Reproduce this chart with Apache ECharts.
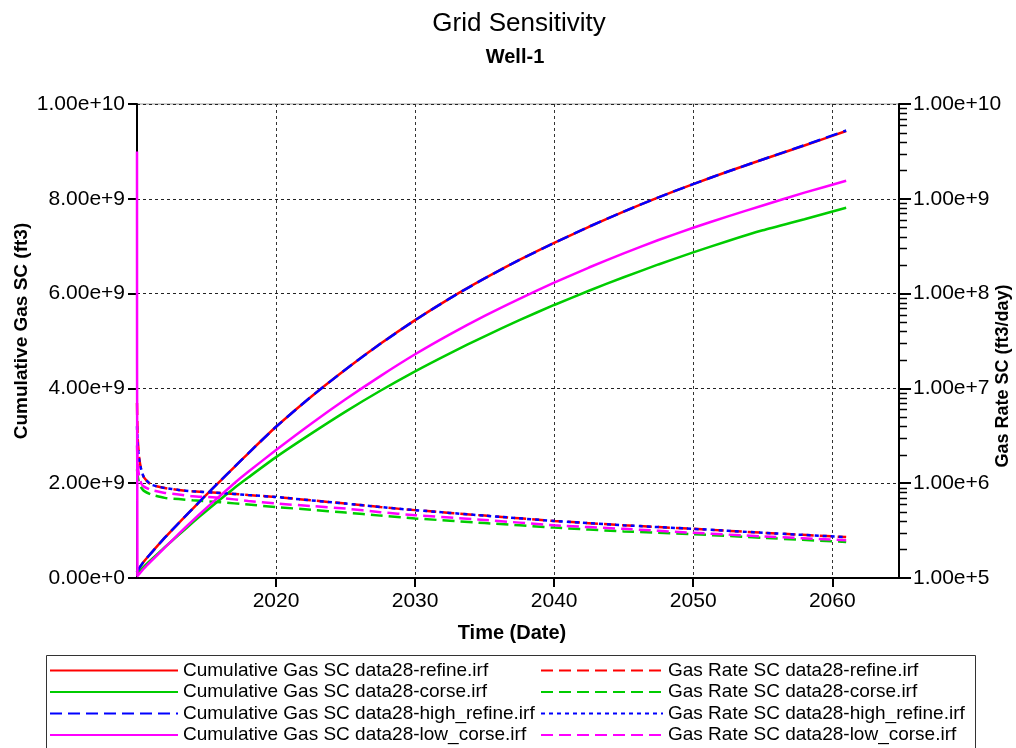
<!DOCTYPE html>
<html>
<head>
<meta charset="utf-8">
<title>Grid Sensitivity - Well-1</title>
<script src="https://cdn.jsdelivr.net/npm/echarts@6/dist/echarts.min.js"></script>
<style>
  html, body { margin: 0; padding: 0; background: #ffffff; }
  #chart { width: 1016px; height: 748px; }
</style>
</head>
<body>
<div id="chart"></div>
<script>
// ---- Cumulative gas (ft3), left axis ----
const cumYears      = [2010.0, 2010.03, 2010.5, 2011, 2012, 2013, 2014, 2015, 2016, 2017, 2018, 2020, 2022.5, 2025, 2027.5, 2030, 2032.5, 2035, 2037.5, 2040, 2042.5, 2045, 2047.5, 2050, 2052.5, 2055, 2058, 2061];
const cumRefine     = [0.12e9, 0.15e9, 0.35e9, 0.52e9, 0.85e9, 1.16e9, 1.46e9, 1.76e9, 2.05e9, 2.34e9, 2.63e9, 3.19e9, 3.82e9, 4.40e9, 4.94e9, 5.44e9, 5.90e9, 6.32e9, 6.71e9, 7.07e9, 7.41e9, 7.73e9, 8.03e9, 8.31e9, 8.575e9, 8.83e9, 9.125e9, 9.43e9];
const cumHighRefine = [0.12e9, 0.15e9, 0.35e9, 0.52e9, 0.85e9, 1.16e9, 1.46e9, 1.76e9, 2.05e9, 2.34e9, 2.63e9, 3.19e9, 3.82e9, 4.40e9, 4.94e9, 5.44e9, 5.90e9, 6.32e9, 6.71e9, 7.07e9, 7.41e9, 7.73e9, 8.03e9, 8.31e9, 8.575e9, 8.83e9, 9.13e9, 9.44e9];
const cumCorse      = [0.08e9, 0.10e9, 0.24e9, 0.38e9, 0.65e9, 0.91e9, 1.17e9, 1.42e9, 1.66e9, 1.90e9, 2.12e9, 2.55e9, 3.04e9, 3.51e9, 3.95e9, 4.36e9, 4.74e9, 5.10e9, 5.44e9, 5.76e9, 6.06e9, 6.345e9, 6.615e9, 6.87e9, 7.11e9, 7.335e9, 7.57e9, 7.81e9];
const cumLowCorse   = [9.00e9, 0.04e9, 0.20e9, 0.35e9, 0.64e9, 0.93e9, 1.21e9, 1.48e9, 1.74e9, 2.00e9, 2.24e9, 2.70e9, 3.25e9, 3.77e9, 4.26e9, 4.72e9, 5.14e9, 5.53e9, 5.89e9, 6.23e9, 6.55e9, 6.85e9, 7.13e9, 7.39e9, 7.63e9, 7.86e9, 8.13e9, 8.38e9];

// ---- Gas rate (ft3/day), right log axis ----
const rateYears      = [2010.0, 2010.05, 2010.15, 2010.3, 2010.5, 2011, 2012, 2013, 2014, 2016, 2018, 2020, 2022.5, 2025, 2027.5, 2030, 2035, 2040, 2045, 2050, 2055, 2061];
const rateRefine     = [7.0e6, 3.0e6, 1.9e6, 1.4e6, 1.15e6, 9.7e5, 8.9e5, 8.5e5, 8.2e5, 7.9e5, 7.5e5, 7.15e5, 6.6e5, 6.1e5, 5.6e5, 5.2e5, 4.55e5, 4.0e5, 3.6e5, 3.3e5, 3.0e5, 2.7e5];
const rateHighRefine = [4.0e6, 2.6e6, 1.8e6, 1.4e6, 1.15e6, 9.7e5, 8.9e5, 8.5e5, 8.2e5, 7.9e5, 7.5e5, 7.15e5, 6.6e5, 6.1e5, 5.6e5, 5.2e5, 4.55e5, 4.0e5, 3.6e5, 3.3e5, 3.0e5, 2.7e5];
const rateCorse      = [1.4e6, 1.2e6, 1.0e6, 9.0e5, 8.3e5, 7.6e5, 7.0e5, 6.8e5, 6.6e5, 6.3e5, 5.95e5, 5.6e5, 5.25e5, 4.9e5, 4.55e5, 4.25e5, 3.8e5, 3.4e5, 3.1e5, 2.9e5, 2.65e5, 2.4e5];
const rateLowCorse   = [2.5e6, 1.6e6, 1.2e6, 1.0e6, 9.2e5, 8.5e5, 7.9e5, 7.6e5, 7.3e5, 7.0e5, 6.5e5, 6.1e5, 5.75e5, 5.4e5, 4.95e5, 4.6e5, 4.1e5, 3.6e5, 3.3e5, 3.0e5, 2.75e5, 2.5e5];

// ---- Axes ----
const timeMin = 2010, timeMax = 2064.8, timeStep = 10;
const cumMin = 0, cumMax = 1e10, cumStep = 2e9;
const rateMin = 1e5, rateMax = 1e10;
const rateDecades = [5, 6, 7, 8, 9];          // minor ticks at 2..9 x 10^d
const minorMultipliers = [2, 3, 4, 5, 6, 7, 8, 9];

const seriesNames = {
  cumRefine: 'Cumulative Gas SC data28-refine.irf',
  cumCorse: 'Cumulative Gas SC data28-corse.irf',
  cumHigh: 'Cumulative Gas SC data28-high_refine.irf',
  cumLow: 'Cumulative Gas SC data28-low_corse.irf',
  rateRefine: 'Gas Rate SC data28-refine.irf',
  rateCorse: 'Gas Rate SC data28-corse.irf',
  rateHigh: 'Gas Rate SC data28-high_refine.irf',
  rateLow: 'Gas Rate SC data28-low_corse.irf'
};

const FONT = '"Liberation Sans", Arial, Helvetica, sans-serif';
const RED = '#ff0000', GREEN = '#00cc00', BLUE = '#0000ff', MAGENTA = '#ff00ff';

const zip = (xs, ys) => xs.map((x, i) => [x, ys[i]]);

const minorTicks = [];
rateDecades.forEach(d => minorMultipliers.forEach(m => minorTicks.push([timeMax, m * Math.pow(10, d)])));

function lineSeries(name, xs, ys, color, dash, yAxisIndex) {
  return {
    name: name,
    type: 'line',
    xAxisIndex: 0,
    yAxisIndex: yAxisIndex,
    data: zip(xs, ys),
    showSymbol: false,
    symbol: 'none',
    smooth: 0.2,
    animation: false,
    lineStyle: { color: color, width: 2.5, type: dash },
    itemStyle: { color: color },
    emphasis: { disabled: true }
  };
}

const expLabel = v => Number(v).toExponential(2);

const legendBase = {
  orient: 'vertical', top: 661, padding: 0,
  itemHeight: 19, itemGap: 2.5,
  selectedMode: false,
  itemStyle: { opacity: 0 },
  textStyle: { fontSize: 19, color: '#000', fontFamily: FONT }
};

const chart = echarts.init(document.getElementById('chart'), null, { renderer: 'canvas' });

chart.setOption({
  backgroundColor: '#ffffff',
  animation: false,
  textStyle: { fontFamily: FONT },
  title: [
    { text: 'Grid Sensitivity', left: 514, top: 6, textAlign: 'center',
      textStyle: { fontSize: 26, fontWeight: 'normal', color: '#000', fontFamily: FONT } },
    { text: 'Well-1', left: 510, top: 42, textAlign: 'center',
      textStyle: { fontSize: 20, fontWeight: 'bold', color: '#000', fontFamily: FONT } }
  ],
  grid: {
    left: 137, right: 117, top: 104, bottom: 170,
    show: true, borderColor: '#9a9a9a', borderWidth: 1,
    containLabel: false, outerBoundsMode: 'none'
  },
  legend: [
    Object.assign({}, legendBase, {
      data: [seriesNames.cumRefine, seriesNames.cumCorse, seriesNames.cumHigh, seriesNames.cumLow],
      left: 49, itemWidth: 128
    }),
    Object.assign({}, legendBase, {
      data: [seriesNames.rateRefine, seriesNames.rateCorse, seriesNames.rateHigh, seriesNames.rateLow],
      left: 540, itemWidth: 122
    })
  ],
  xAxis: {
    type: 'value', min: timeMin, max: timeMax, interval: timeStep,
    axisLine: { show: true, onZero: false, lineStyle: { color: '#000', width: 2 } },
    axisTick: { show: true, length: 9, lineStyle: { color: '#000', width: 2 } },
    axisLabel: { show: true, showMinLabel: false, showMaxLabel: false, margin: 13,
      fontSize: 21, color: '#000', fontFamily: FONT, formatter: v => String(Math.round(v)) },
    splitLine: { show: true, lineStyle: { color: '#333', width: 1, type: [3, 3] } }
  },
  yAxis: [
    {
      type: 'value', position: 'left', min: cumMin, max: cumMax, interval: cumStep,
      axisLine: { show: true, lineStyle: { color: '#000', width: 2 } },
      axisTick: { show: true, length: 9, lineStyle: { color: '#000', width: 2 } },
      axisLabel: { margin: 12, fontSize: 21, color: '#000', fontFamily: FONT, formatter: expLabel },
      splitLine: { show: true, lineStyle: { color: '#222', width: 1, type: [3, 3] } }
    },
    {
      type: 'log', logBase: 10, position: 'right', min: rateMin, max: rateMax,
      axisLine: { show: true, lineStyle: { color: '#000', width: 2 } },
      axisTick: { show: true, length: 12, lineStyle: { color: '#000', width: 2 } },
      axisLabel: { margin: 14, fontSize: 21, color: '#000', fontFamily: FONT, formatter: expLabel },
      splitLine: { show: false }
    }
  ],
  graphic: [
    { type: 'rect', silent: true, z: 0,
      shape: { x: 46.5, y: 655.5, width: 929, height: 110 },
      style: { fill: 'none', stroke: '#333', lineWidth: 1 } },
    { type: 'text', silent: true, x: 22, y: 331, rotation: Math.PI / 2,
      style: { text: 'Cumulative Gas SC (ft3)', fill: '#000', font: 'bold 19px ' + FONT,
        textAlign: 'center', textVerticalAlign: 'middle' } },
    { type: 'text', silent: true, x: 1003, y: 376, rotation: Math.PI / 2,
      style: { text: 'Gas Rate SC (ft3/day)', fill: '#000', font: 'bold 18px ' + FONT,
        textAlign: 'center', textVerticalAlign: 'middle' } },
    { type: 'text', silent: true, x: 512, y: 633,
      style: { text: 'Time (Date)', fill: '#000', font: 'bold 20px ' + FONT,
        textAlign: 'center', textVerticalAlign: 'middle' } }
  ],
  series: [
    lineSeries(seriesNames.cumRefine, cumYears, cumRefine, RED, 'solid', 0),
    lineSeries(seriesNames.rateRefine, rateYears, rateRefine, RED, [12, 6], 1),
    lineSeries(seriesNames.cumCorse, cumYears, cumCorse, GREEN, 'solid', 0),
    lineSeries(seriesNames.rateCorse, rateYears, rateCorse, GREEN, [12, 6], 1),
    lineSeries(seriesNames.cumHigh, cumYears, cumHighRefine, BLUE, [12, 6], 0),
    lineSeries(seriesNames.rateHigh, rateYears, rateHighRefine, BLUE, [4, 4], 1),
    lineSeries(seriesNames.cumLow, cumYears, cumLowCorse, MAGENTA, 'solid', 0),
    lineSeries(seriesNames.rateLow, rateYears, rateLowCorse, MAGENTA, [12, 6], 1),
    {
      // minor log ticks on the right-hand rate axis
      type: 'custom', yAxisIndex: 1, silent: true, clip: false, z: 5,
      animation: false,
      data: minorTicks,
      renderItem: function (params, api) {
        const p = api.coord([api.value(0), api.value(1)]);
        return {
          type: 'line',
          shape: { x1: p[0], y1: Math.round(p[1]) + 0.5, x2: p[0] + 8, y2: Math.round(p[1]) + 0.5 },
          style: { stroke: '#000', lineWidth: 1.5 }
        };
      }
    }
  ]
});
</script>
</body>
</html>
